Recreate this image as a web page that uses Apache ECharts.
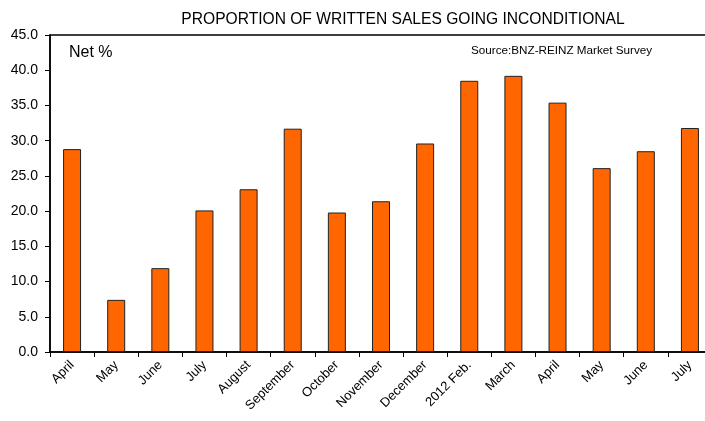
<!DOCTYPE html>
<html><head><meta charset="utf-8">
<script src="https://cdn.jsdelivr.net/npm/echarts@6/dist/echarts.min.js"></script>
<style>html,body{margin:0;padding:0;background:#fff}#c{width:705px;height:421px}</style>
</head><body><div id="c"></div>
<script>
const categories = ['April','May','June','July','August','September','October','November','December','2012 Feb.','March','April','May','June','July'];
const netValues = [28.8, 7.4, 11.9, 20.1, 23.1, 31.7, 19.8, 21.4, 29.6, 38.5, 39.2, 35.4, 26.1, 28.5, 31.8];
const yTicks = {min: 0, max: 45, interval: 5};
const chart = echarts.init(document.getElementById('c'));
const F = 'Liberation Sans, Arial, sans-serif';
chart.setOption({
  animation: false,
  title: {text: 'PROPORTION OF WRITTEN SALES GOING INCONDITIONAL', left: 398, top: 7, textAlign: 'center',
    textStyle: {fontFamily: F, fontSize: 15.6, fontWeight: 'normal', color: '#000'}},
  graphic: [
    {type: 'text', left: 69, top: 45, style: {text: 'Net %', font: '16px ' + F, fill: '#000'}},
    {type: 'text', left: 471, top: 45, style: {text: 'Source:BNZ-REINZ Market Survey', font: '11.7px ' + F, fill: '#000'}}
  ],
  grid: {left: 50, width: 662, top: 35, bottom: 69, show: true, borderColor: '#000', borderWidth: 1.5,
    containLabel: false, outerBoundsMode: 'none'},
  xAxis: {type: 'category', data: categories,
    axisLine: {lineStyle: {color: '#000', width: 1.5}},
    axisTick: {show: true, alignWithLabel: false, length: 5, lineStyle: {color: '#000'}},
    axisLabel: {rotate: 45, interval: 0, fontFamily: F, fontSize: 13, color: '#000', margin: 11}},
  yAxis: {type: 'value', min: yTicks.min, max: yTicks.max, interval: yTicks.interval,
    axisLine: {show: true, lineStyle: {color: '#000', width: 1.5}},
    axisTick: {show: true, length: 5, lineStyle: {color: '#000'}},
    splitLine: {show: false},
    axisLabel: {formatter: v => v.toFixed(1), fontFamily: F, fontSize: 14, color: '#000', margin: 12}},
  series: [{type: 'bar', data: netValues, barWidth: 18,
    itemStyle: {color: '#FF6600', borderColor: '#222', borderWidth: 1}}]
});
</script></body></html>
